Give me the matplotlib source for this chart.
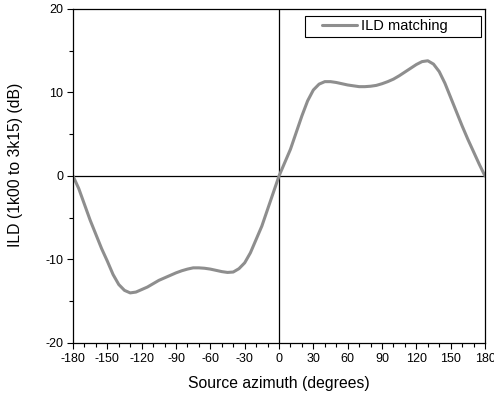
import matplotlib
matplotlib.use("Agg")
import matplotlib.pyplot as plt
from matplotlib.ticker import MultipleLocator
from matplotlib.patches import Rectangle

plt.rcParams['font.family'] = ['Liberation Sans', 'DejaVu Sans']
plt.rcParams['axes.unicode_minus'] = False

# Source azimuth (degrees) and ILD (dB)
azimuth = list(range(-180, 181, 5))
ild = [
    0.0, -1.5, -3.4, -5.3, -7.0, -8.7, -10.2, -11.8, -13.0, -13.7,
    -14.0, -13.9, -13.6, -13.3, -12.9, -12.5, -12.2, -11.9, -11.6, -11.35,
    -11.15, -11.0, -11.0, -11.05, -11.15, -11.3, -11.45, -11.55, -11.5, -11.1,
    -10.4, -9.2, -7.6, -6.0, -4.0, -2.0,
    0.0,
    1.6, 3.2, 5.2, 7.2, 9.0, 10.3, 11.0, 11.3, 11.3, 11.2,
    11.05, 10.9, 10.8, 10.7, 10.7, 10.75, 10.85, 11.05, 11.3, 11.6,
    12.0, 12.45, 12.9, 13.35, 13.7, 13.8, 13.4, 12.5, 11.1, 9.4,
    7.7, 6.0, 4.4, 2.9, 1.4, 0.0,
]
series_label = "ILD matching"
x_ticks = [-180, -150, -120, -90, -60, -30, 0, 30, 60, 90, 120, 150, 180]
y_ticks = [-20, -10, 0, 10, 20]

fig = plt.figure(figsize=(4.94, 3.98), dpi=100)
ax = fig.add_axes([0.1478, 0.1382, 0.8340, 0.8392])

ax.axhline(0, color='black', lw=0.9, zorder=1)
ax.axvline(0, color='black', lw=0.9, zorder=1)
ax.plot(azimuth, ild, color='#8e8e8e', lw=2.2, label=series_label, zorder=2,
        solid_capstyle='round', solid_joinstyle='round')

ax.set_xlim(-180, 180)
ax.set_ylim(-20, 20)
ax.set_xticks(x_ticks)
ax.set_yticks(y_ticks)
ax.xaxis.set_minor_locator(MultipleLocator(10))
ax.yaxis.set_minor_locator(MultipleLocator(5))
ax.tick_params(which='major', direction='out', length=4.5, width=0.8,
               labelsize=9, top=False, right=False, color='black')
ax.tick_params(which='minor', direction='out', length=2.8, width=0.8,
               top=False, right=False)
ax.tick_params(axis='x', pad=2.5)
ax.tick_params(axis='y', pad=2.5)
for sp in ax.spines.values():
    sp.set_linewidth(0.9)
    sp.set_color('black')

ax.set_xlabel("Source azimuth (degrees)", fontsize=11.3)
ax.set_ylabel("ILD (1k00 to 3k15) (dB)", fontsize=11.3)
ax.xaxis.set_label_coords(0.5, -0.10)
ax.yaxis.set_label_coords(-0.122, 0.533)

# Legend box and entry
ax.add_patch(Rectangle((0.563, 0.917), 0.427, 0.063, transform=ax.transAxes,
                       facecolor='white', edgecolor='black', lw=0.8, zorder=3))
ax.legend(loc='center left', bbox_to_anchor=(0.604, 0.9485), frameon=False,
          borderpad=0, borderaxespad=0, handlelength=2.4, handletextpad=0.3,
          fontsize=10.5).set_zorder(4)

fig.savefig("out.png", dpi=100)
